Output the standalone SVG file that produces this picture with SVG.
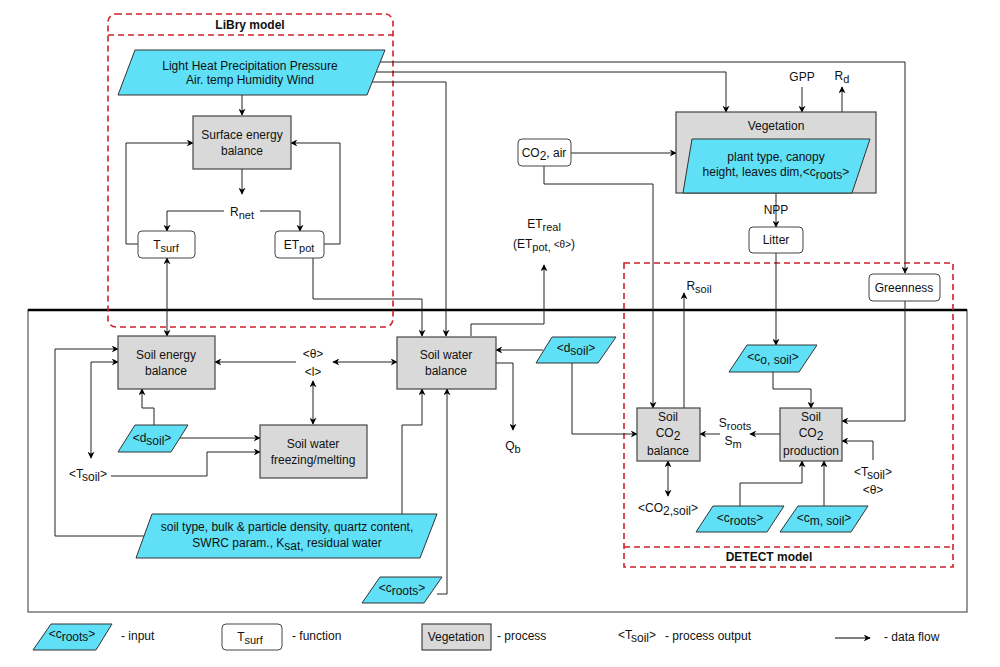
<svg xmlns="http://www.w3.org/2000/svg" width="1000" height="667" viewBox="0 0 1000 667">
<defs>
<marker id="a" viewBox="0 0 10 10" refX="9" refY="5" markerWidth="7" markerHeight="7" orient="auto-start-reverse" markerUnits="userSpaceOnUse"><path d="M0,0 L10,5 L0,10 L3,5 Z" fill="#000"/></marker>
<style>
text{font-family:"Liberation Sans",Arial,sans-serif;font-size:12px;fill:#111;text-anchor:middle}
.b{font-weight:bold}
.l{text-anchor:start}
.inp{fill:#5fe0f7;stroke:#333;stroke-width:1}
.proc{fill:#d9d9d9;stroke:#444;stroke-width:1.2}
.fn{fill:#fff;stroke:#444;stroke-width:1}
.red{fill:none;stroke:#d0202a;stroke-width:1.6;stroke-dasharray:6,4}
.c path,.c line{fill:none;stroke:#222;stroke-width:1}
.ar{marker-end:url(#a)}
.ab{marker-start:url(#a);marker-end:url(#a)}
</style>
</defs>
<rect width="1000" height="667" fill="#fff"/>
<g id="main-frame"><rect x="28" y="310" width="939" height="302" fill="none" stroke="#555" stroke-width="1.2"/><line x1="28" y1="310" x2="967" y2="310" stroke="#000" stroke-width="2.5"/></g>
<g id="libry"><rect class="red" x="108" y="14" width="285" height="313" rx="8"/><line class="red" x1="108" y1="35" x2="393" y2="35"/><text class="b" x="250" y="29">LiBry model</text></g>
<g id="detect"><rect class="red" x="624" y="263" width="329" height="304"/><line class="red" x1="624" y1="547" x2="953" y2="547"/><text class="b" x="769" y="561">DETECT model</text></g>
<g class="c" id="connectors">
<path class="ar" d="M380,62 H905 V273"/>
<path class="ar" d="M376,72 H726 V112"/>
<path class="ar" d="M372,82 H446 V336"/>
<path class="ar" d="M242,95 V115"/>
<path class="ar" d="M242,169 V194"/>
<path class="ar" d="M224,211 H167 V231"/>
<path class="ar" d="M260,211 H300 V231"/>
<path class="ar" d="M138,244 H126 V143 H193"/>
<path class="ar" d="M324,244 H340 V143 H291"/>
<path class="ab" d="M167,258 V336"/>
<path class="ar" d="M313,258 V299 H422 V336"/>
<path class="ar" d="M471,336 V324 H544 V265"/>
<path class="ar" d="M296,362 H215"/>
<path class="ab" d="M333,362 H397"/>
<path class="ab" d="M313,381 V424"/>
<path class="ar" d="M154,425 V408 H142 V389"/>
<path class="ar" d="M180,438 H260"/>
<path class="ar" d="M111,476 H207 V452 H260"/>
<path class="ar" d="M145,536 H55 V349 H118"/>
<path class="ab" d="M91,458 V362 H118"/>
<path class="ar" d="M402,514 V425 H422 V389"/>
<path class="ar" d="M437,594 H447 V389"/>
<path class="ar" d="M543,350 H496"/>
<path class="ar" d="M496,363 H513 V430"/>
<path class="ar" d="M572,363 V434 H637"/>
<path class="ar" d="M571,153 H676"/>
<path class="ar" d="M544,166 V184 H653 V408"/>
<path class="ar" d="M684,408 V293"/>
<path class="ar" d="M802,87 V112"/>
<path class="ar" d="M842,112 V87"/>
<path class="ar" d="M776,193 V227"/>
<path class="ar" d="M776,253 V345"/>
<path class="ar" d="M773,372 V389 H811 V408"/>
<path class="ar" d="M905,301 V421 H842"/>
<path class="ar" d="M873,460 V441 H842"/>
<path class="ar" d="M780,434 H750"/>
<path class="ar" d="M720,434 H700"/>
<path class="ab" d="M668,461 V496"/>
<path class="ar" d="M740,506 V483 H802 V461"/>
<path class="ar" d="M824,506 V461"/>
</g>
<g id="weather"><polygon class="inp" points="135,50 385,50 367,95 118,95"/><text x="250" y="70" font-size="12.5">Light  Heat Precipitation Pressure</text><text x="250" y="84" font-size="12.5">Air. temp Humidity  Wind</text></g>
<g id="seb"><rect class="proc" x="193" y="116" width="98" height="53"/><text x="242" y="139">Surface energy</text><text x="242" y="155">balance</text></g>
<g id="rnet"><text x="242" y="216">R<tspan font-size="11" dy="3">net</tspan></text></g>
<g id="tsurf"><rect class="fn" x="138" y="231" width="57" height="27" rx="4"/><text x="166" y="249">T<tspan font-size="11" dy="3">surf</tspan></text></g>
<g id="etpot"><rect class="fn" x="275" y="231" width="49" height="27" rx="4"/><text x="299" y="249">ET<tspan font-size="11" dy="3">pot</tspan></text></g>
<g id="etreal"><text x="544" y="228">ET<tspan font-size="11" dy="3">real</tspan></text><text x="544" y="248">(ET<tspan font-size="11" dy="3">pot, </tspan><tspan dy="-3" font-size="10">&lt;θ&gt;</tspan>)</text></g>
<g id="soil-energy"><rect class="proc" x="118" y="336" width="97" height="53"/><text x="166" y="359">Soil energy</text><text x="166" y="375">balance</text></g>
<g id="soil-water"><rect class="proc" x="397" y="337" width="99" height="52"/><text x="446" y="359">Soil water</text><text x="446" y="375">balance</text></g>
<g id="theta"><text x="313" y="358" font-size="10">&lt;θ&gt;</text><text x="313" y="376" font-size="10">&lt;l&gt;</text></g>
<g id="freezing"><rect class="proc" x="260" y="425" width="107" height="53"/><text x="313" y="448">Soil water</text><text x="313" y="464">freezing/melting</text></g>
<g id="dsoil-left"><polygon class="inp" points="135,425 188,425 171,452 118,452"/><text x="152" y="442">&lt;d<tspan dy="3">soil</tspan><tspan dy="-3">&gt;</tspan></text></g>
<g id="tsoil-out"><text x="88" y="478">&lt;T<tspan dy="3">soil</tspan><tspan dy="-3">&gt;</tspan></text></g>
<g id="soil-params"><polygon class="inp" points="152,514 437,514 420,558 136,558"/><text x="287" y="531">soil type, bulk &amp; particle density, quartz content,</text><text x="287" y="547">SWRC param., K<tspan dy="3">sat,</tspan><tspan dy="-3"> residual water</tspan></text></g>
<g id="croots-left"><polygon class="inp" points="380,577 442,577 424,603 362,603"/><text x="402" y="592">&lt;c<tspan dy="3">roots</tspan><tspan dy="-3">&gt;</tspan></text></g>
<g id="qb"><text x="513" y="450">Q<tspan font-size="11" dy="3">b</tspan></text></g>
<g id="dsoil-right"><polygon class="inp" points="552,337 616,337 598,363 536,363"/><text x="576" y="352">&lt;d<tspan dy="3">soil</tspan><tspan dy="-3">&gt;</tspan></text></g>
<g id="co2air"><rect class="fn" x="518" y="139" width="53" height="27" rx="4"/><text x="544" y="157">CO<tspan dy="3">2</tspan><tspan dy="-3">, air</tspan></text></g>
<g id="vegetation"><rect class="proc" x="676" y="112" width="200" height="81"/><text x="776" y="130">Vegetation</text><polygon class="inp" points="692,139 870,139 852,193 683,193"/><text x="776" y="161">plant type, canopy</text><text x="776" y="176">height, leaves dim,&lt;c<tspan dy="3">roots</tspan><tspan dy="-3">&gt;</tspan></text></g>
<g id="gpp"><text x="802" y="81">GPP</text></g>
<g id="rd"><text x="842" y="80">R<tspan font-size="11" dy="3">d</tspan></text></g>
<g id="npp"><text x="776" y="214">NPP</text></g>
<g id="litter"><rect class="fn" x="749" y="227" width="54" height="26" rx="4"/><text x="776" y="244">Litter</text></g>
<g id="greenness"><rect class="fn" x="869" y="274" width="71" height="27" rx="4"/><text x="904" y="292">Greenness</text></g>
<g id="rsoil"><text x="699" y="290">R<tspan font-size="11" dy="3">soil</tspan></text></g>
<g id="co-soil"><polygon class="inp" points="747,345 817,345 799,372 729,372"/><text x="773" y="361">&lt;c<tspan dy="3">o, soil</tspan><tspan dy="-3">&gt;</tspan></text></g>
<g id="co2-balance"><rect class="proc" x="637" y="408" width="63" height="53"/><text x="668" y="421">Soil</text><text x="668" y="437">CO<tspan dy="3">2</tspan></text><text x="668" y="455">balance</text></g>
<g id="co2-production"><rect class="proc" x="780" y="408" width="62" height="53"/><text x="811" y="421">Soil</text><text x="811" y="437">CO<tspan dy="3">2</tspan></text><text x="811" y="455">production</text></g>
<g id="sroots"><text x="735" y="427">S<tspan font-size="11" dy="3">roots</tspan></text><text x="733" y="445">S<tspan font-size="11" dy="3">m</tspan></text></g>
<g id="co2soil"><text x="668" y="512">&lt;CO<tspan dy="3">2,soil</tspan><tspan dy="-3">&gt;</tspan></text></g>
<g id="tsoil-theta"><text x="873" y="476">&lt;T<tspan dy="3">soil</tspan><tspan dy="-3">&gt;</tspan></text><text x="873" y="494" font-size="11">&lt;θ&gt;</text></g>
<g id="croots-right"><polygon class="inp" points="713,506 784,506 767,532 696,532"/><text x="740" y="522">&lt;c<tspan dy="3">roots</tspan><tspan dy="-3">&gt;</tspan></text></g>
<g id="cm-soil"><polygon class="inp" points="798,506 868,506 851,532 780,532"/><text x="824" y="522">&lt;c<tspan dy="3">m, soil</tspan><tspan dy="-3">&gt;</tspan></text></g>
<g id="legend">
<polygon class="inp" points="51,624 112,624 96,650 33,650"/><text x="72" y="638" font-size="11">&lt;c<tspan dy="3">roots</tspan><tspan dy="-3">&gt;</tspan></text>
<text class="l" x="121" y="640">- input</text>
<rect class="fn" x="222" y="624" width="60" height="26" rx="4"/><text x="250" y="641">T<tspan font-size="11" dy="3">surf</tspan></text>
<text class="l" x="292" y="640">- function</text>
<rect class="proc" x="422" y="624" width="69" height="26"/><text x="456" y="641">Vegetation</text>
<text class="l" x="497" y="640">- process</text>
<text x="637" y="639">&lt;T<tspan dy="3">soil</tspan><tspan dy="-3">&gt;</tspan></text>
<text class="l" x="665" y="640">- process output</text>
<line x1="835" y1="638" x2="870" y2="638" stroke="#000" stroke-width="1" marker-end="url(#a)"/>
<text class="l" x="884" y="641">- data flow</text>
</g>
</svg>
